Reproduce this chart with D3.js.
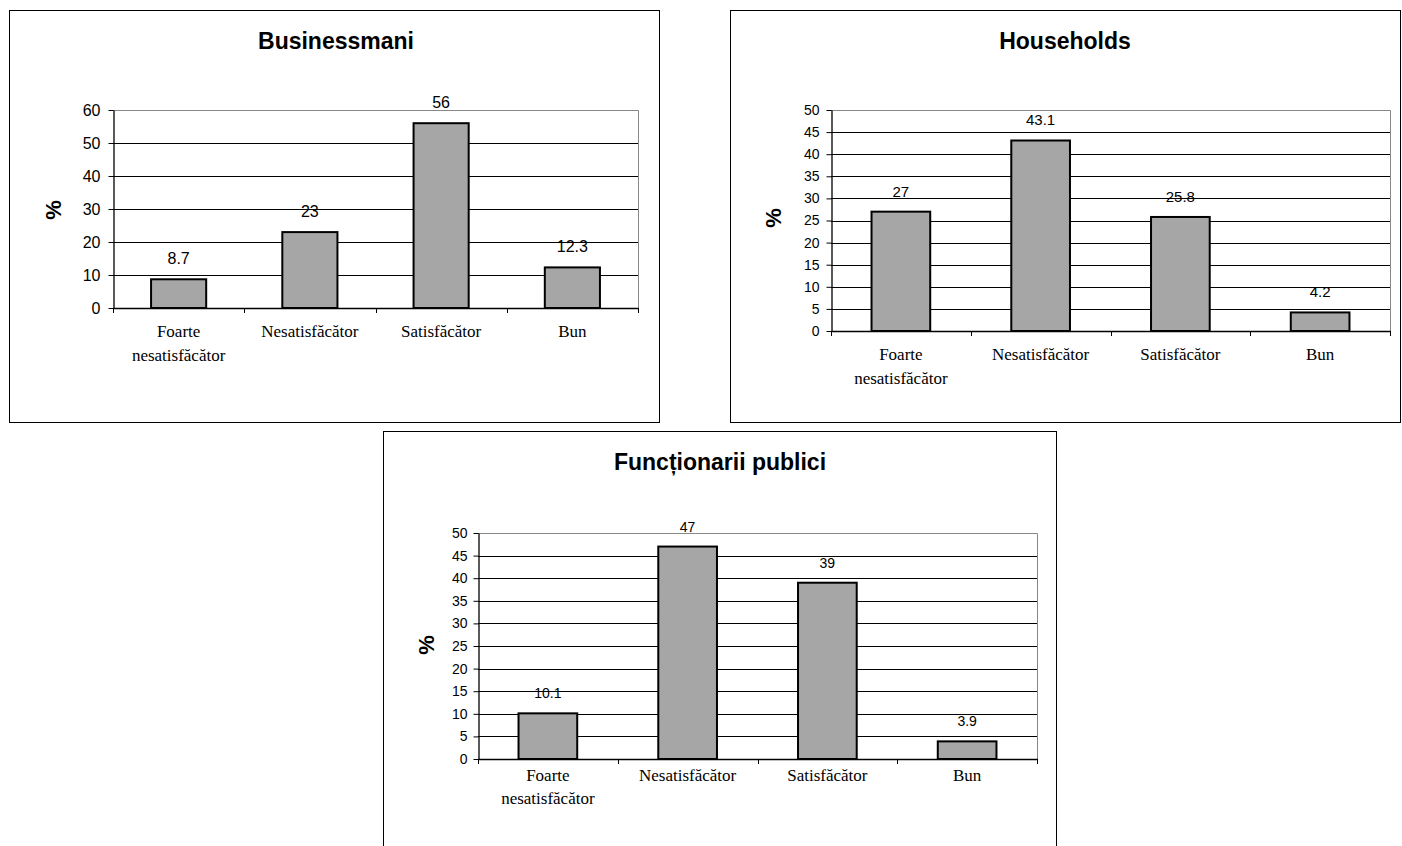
<!DOCTYPE html>
<html>
<head>
<meta charset="utf-8">
<script src="https://cdn.jsdelivr.net/npm/d3@7"></script>
<style>
  html, body { margin: 0; padding: 0; background: #fff; }
  svg { display: block; }
</style>
</head>
<body>
<svg id="chart" width="1402" height="846"></svg>
<script>
// Category labels, split into the lines they are drawn on
const categories = ["Foarte nesatisfăcător", "Nesatisfăcător", "Satisfăcător", "Bun"];
const categoryLines = [["Foarte", "nesatisfăcător"], ["Nesatisfăcător"], ["Satisfăcător"], ["Bun"]];

// Survey results, % of respondents
const businessValues = [8.7, 23, 56, 12.3];
const householdValues = [27, 43.1, 25.8, 4.2];
const publicValues = [10.1, 47, 39, 3.9];

// Y-axis tick values
const businessTicks = [0, 10, 20, 30, 40, 50, 60];
const householdTicks = [0, 5, 10, 15, 20, 25, 30, 35, 40, 45, 50];
const publicTicks = [0, 5, 10, 15, 20, 25, 30, 35, 40, 45, 50];

const titles = ["Businessmani", "Households", "Funcționarii publici"];

const SANS = "'Liberation Sans', Arial, sans-serif";
const SERIF = "'Liberation Serif', 'Times New Roman', serif";

const svg = d3.select("#chart");

// Panel geometry
const panels = [
  { frame: [9, 10, 650, 412], plot: { left: 113, right: 638, top: 110, bottom: 308 },
    titleX: 336, titleY: 49, pctX: 53, pctY: 210, tickFont: 16, tickPad: 8, valueFont: 16,
    labelY: 337, labelGap: 24 },
  { frame: [730, 10, 670, 412], plot: { left: 831, right: 1390, top: 110, bottom: 331 },
    titleX: 1065, titleY: 49, pctX: 773, pctY: 218, tickFont: 14, tickPad: 7, valueFont: 15,
    labelY: 360, labelGap: 24 },
  { frame: [383, 431, 673, 420], plot: { left: 478, right: 1037, top: 533, bottom: 759 },
    titleX: 720, titleY: 470, pctX: 426, pctY: 645, tickFont: 14, tickPad: 6, valueFont: 14,
    labelY: 781, labelGap: 23 }
];

function drawPanel(p, title, values, ticks) {
  const g = svg.append("g");
  const { left, right, top, bottom } = p.plot;

  // outer frame
  g.append("rect")
    .attr("x", p.frame[0] + 0.5).attr("y", p.frame[1] + 0.5)
    .attr("width", p.frame[2]).attr("height", p.frame[3])
    .attr("fill", "#fff").attr("stroke", "#000").attr("stroke-width", 1);

  const x = d3.scaleBand().domain(categories).range([left, right])
    .paddingInner(0.58).paddingOuter(0.29);
  const y = d3.scaleLinear().domain([0, d3.max(ticks)]).range([bottom, top]);
  const yMax = d3.max(ticks);

  // horizontal gridlines
  g.selectAll("line.grid").data(ticks.filter(t => t > 0 && t < yMax)).join("line")
    .attr("class", "grid")
    .attr("x1", left).attr("x2", right)
    .attr("y1", d => Math.round(y(d)) + 0.5).attr("y2", d => Math.round(y(d)) + 0.5)
    .attr("stroke", "#000").attr("stroke-width", 1);

  // plot area border (top & right)
  g.append("path")
    .attr("d", `M${left},${Math.round(y(yMax)) + 0.5}H${right + 0.5}V${bottom}`)
    .attr("fill", "none").attr("stroke", "#888").attr("stroke-width", 1);

  // y axis
  const yAxis = g.append("g")
    .attr("transform", `translate(${left + 0.5},0)`)
    .call(d3.axisLeft(y).tickValues(ticks).tickSize(5).tickSizeOuter(0).tickPadding(p.tickPad));
  yAxis.select(".domain").attr("stroke", "#000").attr("stroke-width", 1.3);
  yAxis.selectAll(".tick line").attr("stroke", "#000");
  yAxis.selectAll(".tick text")
    .attr("font-family", SANS).attr("font-size", p.tickFont).attr("fill", "#000");

  // x axis line and category boundary ticks
  g.append("line")
    .attr("x1", left).attr("x2", right + 1)
    .attr("y1", bottom + 0.5).attr("y2", bottom + 0.5)
    .attr("stroke", "#000").attr("stroke-width", 1.3);
  const bounds = d3.range(categories.length + 1).map(i => x.range()[0] + i * x.step());
  g.selectAll("line.xtick").data(bounds).join("line")
    .attr("class", "xtick")
    .attr("x1", d => Math.round(d) + 0.5).attr("x2", d => Math.round(d) + 0.5)
    .attr("y1", bottom).attr("y2", bottom + 5)
    .attr("stroke", "#000").attr("stroke-width", 1);

  // bars
  g.selectAll("rect.bar").data(values).join("rect")
    .attr("class", "bar")
    .attr("x", (d, i) => x(categories[i]))
    .attr("width", x.bandwidth())
    .attr("y", d => y(d))
    .attr("height", d => y(0) - y(d))
    .attr("fill", "#a6a6a6").attr("stroke", "#000").attr("stroke-width", 2);

  // value labels
  g.selectAll("text.value").data(values).join("text")
    .attr("class", "value")
    .attr("x", (d, i) => x(categories[i]) + x.bandwidth() / 2)
    .attr("y", d => y(d) - 15)
    .attr("text-anchor", "middle")
    .attr("font-family", SANS).attr("font-size", p.valueFont).attr("fill", "#000")
    .text(d => d);

  // category labels
  const cats = g.selectAll("text.cat").data(categoryLines).join("text")
    .attr("class", "cat")
    .attr("text-anchor", "middle")
    .attr("font-family", SERIF).attr("font-size", 17).attr("fill", "#000");
  cats.each(function (lines, i) {
    const cx = x(categories[i]) + x.bandwidth() / 2;
    d3.select(this).selectAll("tspan").data(lines).join("tspan")
      .attr("x", cx)
      .attr("y", (d, j) => p.labelY + j * p.labelGap)
      .text(d => d);
  });

  // title
  g.append("text")
    .attr("x", p.titleX).attr("y", p.titleY)
    .attr("text-anchor", "middle")
    .attr("font-family", SANS).attr("font-weight", "bold").attr("font-size", 23)
    .attr("fill", "#000")
    .text(title);

  // y-axis title
  g.append("text")
    .attr("transform", `translate(${p.pctX},${p.pctY}) rotate(-90)`)
    .attr("text-anchor", "middle").attr("dy", "0.35em")
    .attr("font-family", SANS).attr("font-weight", "bold").attr("font-size", 22)
    .attr("fill", "#000")
    .text("%");
}

drawPanel(panels[0], titles[0], businessValues, businessTicks);
drawPanel(panels[1], titles[1], householdValues, householdTicks);
drawPanel(panels[2], titles[2], publicValues, publicTicks);
</script>
</body>
</html>
